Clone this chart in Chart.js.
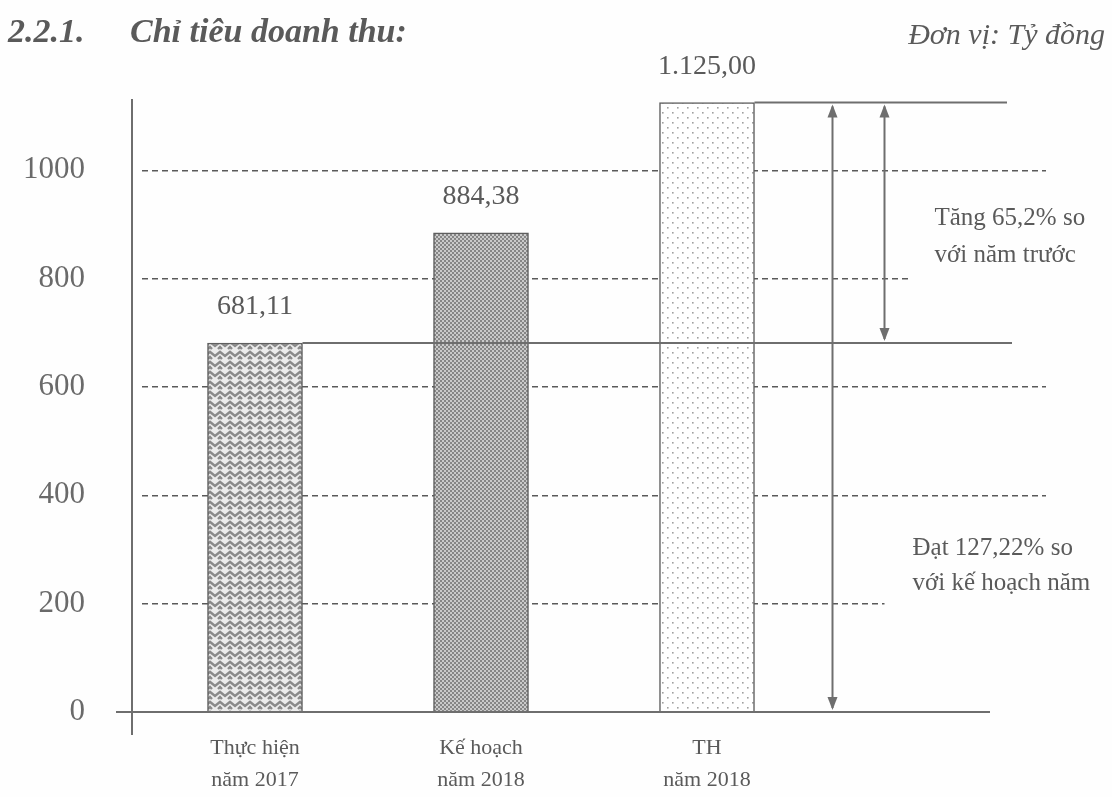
<!DOCTYPE html>
<html lang="vi">
<head>
<meta charset="utf-8">
<title>Chỉ tiêu doanh thu</title>
<script src="https://cdn.jsdelivr.net/npm/chart.js@4.4.1/dist/chart.umd.min.js"></script>
<style>
    html, body { margin: 0; padding: 0; background: #fff; }
    #wrap { width: 1112px; height: 797px; }
</style>
</head>
<body>
<div id="wrap"><canvas id="barDoanhThu" width="1112" height="797"></canvas></div>
<script>
// du lieu doc tu hinh
var categories = [['Thực hiện', 'năm 2017'], ['Kế hoạch', 'năm 2018'], ['TH', 'năm 2018'], ''];
var doanhThu = [681.11, 884.38, 1125.00];
var nhanGiaTri = ['681,11', '884,38', '1.125,00'];
var yTicks = [0, 200, 400, 600, 800, 1000];
var tieuDeSo = '2.2.1.';
var tieuDeChu = 'Chỉ tiêu doanh thu:';
var donVi = 'Đơn vị: Tỷ đồng';
var ghiChuTang = ['Tăng 65,2% so', 'với năm trước'];
var ghiChuDat = ['Đạt 127,22% so', 'với kế hoạch năm'];

var mauChu = '#5a5a5a';
var mauDuong = '#6e6e6e';

function taoMau(size, veFn) {
    var c = document.createElement('canvas');
    c.width = size;
    c.height = size;
    var g = c.getContext('2d');
    veFn(g);
    return document.getElementById('barDoanhThu').getContext('2d').createPattern(c, 'repeat');
}

// hoa van xuong ca (cot 1)
var mauCot1 = taoMau(10, function (g) {
    g.fillStyle = '#ececec';
    g.fillRect(0, 0, 10, 10);
    g.strokeStyle = '#8a8a8a';
    g.lineWidth = 2.4;
    g.beginPath();
    g.moveTo(-1, 1); g.lineTo(5, 6); g.lineTo(11, 1);
    g.moveTo(-1, 6); g.lineTo(2, 9);
    g.moveTo(8, 9); g.lineTo(11, 6);
    g.stroke();
});

// hoa van o luoi day (cot 2)
var mauCot2 = taoMau(4, function (g) {
    g.fillStyle = '#cacaca';
    g.fillRect(0, 0, 4, 4);
    g.fillStyle = '#868686';
    g.fillRect(0, 0, 2, 2);
    g.fillRect(2, 2, 2, 2);
});

// hoa van cham thua (cot 3)
var mauCot3 = taoMau(10, function (g) {
    g.fillStyle = '#ffffff';
    g.fillRect(0, 0, 10, 10);
    g.fillStyle = '#a0a0a0';
    g.fillRect(2, 2, 1.6, 1.6);
    g.fillRect(7, 7, 1.6, 1.6);
});

function muiTen(ctx, x, y, huong) {
    ctx.beginPath();
    ctx.moveTo(x, y);
    ctx.lineTo(x - 5, y + 13 * huong);
    ctx.lineTo(x + 5, y + 13 * huong);
    ctx.closePath();
    ctx.fill();
}

var chuThich = {
    id: 'chuThich',
    beforeDraw: function (chart) {
        var ctx = chart.ctx;
        ctx.save();
        ctx.fillStyle = '#fefefe';
        ctx.fillRect(0, 0, chart.width, chart.height);
        ctx.restore();
    },
    afterDatasetsDraw: function (chart) {
        var ctx = chart.ctx;
        var area = chart.chartArea;
        var y = chart.scales.y;
        var bars = chart.getDatasetMeta(0).data;
        ctx.save();

        // truc
        ctx.strokeStyle = mauDuong;
        ctx.lineWidth = 2;
        ctx.beginPath();
        ctx.moveTo(area.left - 10, area.top + 10);
        ctx.lineTo(area.left - 10, area.bottom + 23);
        ctx.moveTo(area.left - 26, area.bottom);
        ctx.lineTo(area.right - 56, area.bottom);
        ctx.stroke();

        // duong ngang muc 681,11 va 1.125,00
        var y1 = y.getPixelForValue(doanhThu[0]);
        var y3 = y.getPixelForValue(doanhThu[2]);
        var y0 = y.getPixelForValue(0);
        ctx.beginPath();
        ctx.moveTo(bars[0].x + bars[0].width / 2, y1);
        ctx.lineTo(area.right - 34, y1);
        ctx.moveTo(bars[2].x + bars[2].width / 2, y3);
        ctx.lineTo(area.right - 39, y3);
        ctx.stroke();

        // mui ten
        var xA = bars[2].x + bars[2].width / 2 + 78;
        var xB = xA + 52;
        ctx.fillStyle = mauDuong;
        ctx.beginPath();
        ctx.moveTo(xA, y3 + 4);
        ctx.lineTo(xA, y0 - 4);
        ctx.moveTo(xB, y3 + 4);
        ctx.lineTo(xB, y1 - 4);
        ctx.stroke();
        muiTen(ctx, xA, y3 + 2, 1);
        muiTen(ctx, xA, y0 - 2, -1);
        muiTen(ctx, xB, y3 + 2, 1);
        muiTen(ctx, xB, y1 - 2, -1);

        // nhan gia tri
        ctx.fillStyle = mauChu;
        ctx.font = '28px "Liberation Serif", serif';
        ctx.textAlign = 'center';
        ctx.textBaseline = 'middle';
        for (var i = 0; i < bars.length; i++) {
            ctx.fillText(nhanGiaTri[i], bars[i].x, bars[i].y - 36);
        }

        // hop ghi chu (nen trang che duong luoi)
        ctx.fillStyle = '#fefefe';
        ctx.fillRect(xB + 24, y.getPixelForValue(1000) + 22, 200, 92);
        ctx.fillRect(xA + 52, y.getPixelForValue(400) + 18, 220, 92);

        ctx.fillStyle = mauChu;
        ctx.font = '25px "Liberation Serif", serif';
        ctx.textAlign = 'left';
        ctx.fillText(ghiChuTang[0], xB + 50, 218);
        ctx.fillText(ghiChuTang[1], xB + 50, 255);
        ctx.fillText(ghiChuDat[0], xA + 80, 548);
        ctx.fillText(ghiChuDat[1], xA + 80, 583);

        // tieu de
        ctx.textBaseline = 'alphabetic';
        ctx.font = 'italic bold 34px "Liberation Serif", serif';
        ctx.fillText(tieuDeSo, 8, 42);
        ctx.fillText(tieuDeChu, 130, 42);
        ctx.font = 'italic 30px "Liberation Serif", serif';
        ctx.textAlign = 'right';
        ctx.fillText(donVi, 1105, 44);
        ctx.restore();
    }
};

var ctx = document.getElementById('barDoanhThu').getContext('2d');
var myChart = new Chart(ctx, {
    type: 'bar',
    data: {
        labels: categories,
        datasets: [{
            label: 'Doanh thu',
            data: doanhThu,
            backgroundColor: [mauCot1, mauCot2, mauCot3],
            borderColor: '#5e5e5e',
            borderWidth: 1.5,
            barThickness: 95
        }]
    },
    options: {
        responsive: false,
        animation: false,
        events: [],
        layout: {
            padding: { top: 89, right: 66, bottom: 0, left: 0 }
        },
        plugins: {
            legend: { display: false },
            tooltip: { enabled: false }
        },
        scales: {
            x: {
                grid: { display: false, drawTicks: false },
                border: { display: false },
                ticks: {
                    color: mauChu,
                    padding: 20,
                    font: { family: '"Liberation Serif", serif', size: 22, lineHeight: 1.45 }
                },
                afterFit: function (scale) {
                    scale.height = 85;
                }
            },
            y: {
                min: 0,
                max: 1150,
                afterBuildTicks: function (scale) {
                    scale.ticks = yTicks.map(function (v) { return { value: v }; });
                },
                grid: {
                    drawTicks: false,
                    color: function (c) { return c.tick && c.tick.value === 0 ? 'rgba(0,0,0,0)' : '#5a5a5a'; },
                    lineWidth: 1.4
                },
                border: { display: false, dash: [6, 4] },
                ticks: {
                    color: '#6a6a6a',
                    padding: 57,
                    font: { family: '"Liberation Serif", serif', size: 31 },
                    callback: function (v) { return String(v); }
                },
                afterFit: function (scale) {
                    scale.width = 142;
                }
            }
        }
    },
    plugins: [chuThich]
});
</script>
</body>
</html>
